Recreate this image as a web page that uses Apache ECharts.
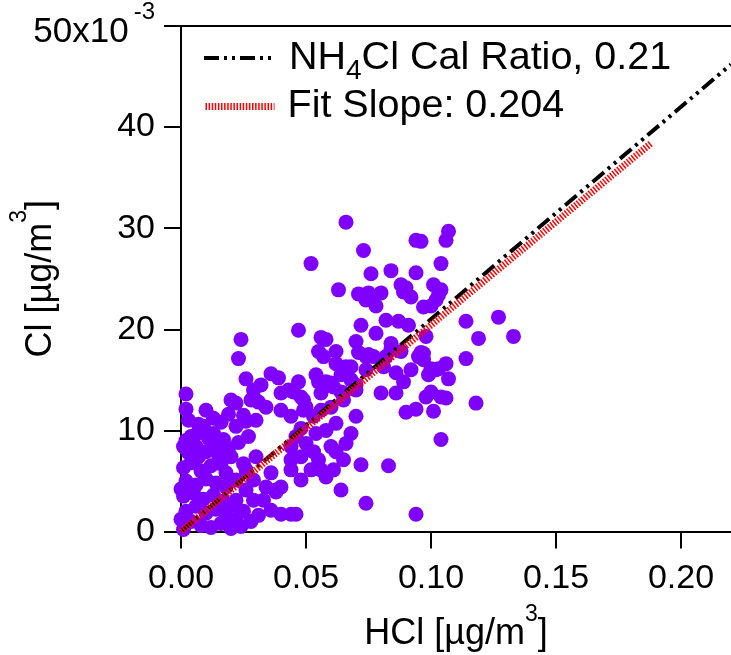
<!DOCTYPE html>
<html><head><meta charset="utf-8">
<script src="https://cdn.jsdelivr.net/npm/echarts@6/dist/echarts.min.js"></script>
<style>html,body{margin:0;padding:0;background:#fff}#c{width:731px;height:655px}</style>
</head><body><div id="c"></div>
<script>
// HCl [µg/m3]
const hcl = [0.066,0.073,0.052,0.094,0.096,0.107,0.106,0.104,0.076,0.084,0.094,0.063,0.071,0.075,0.080,0.074,0.078,0.076,0.088,0.089,0.092,0.090,0.101,0.104,0.103,0.102,0.100,0.097,
0.047,0.056,0.058,0.072,0.062,0.070,0.055,0.057,0.082,0.087,0.091,0.078,0.084,0.097,0.100,0.103,0.099,0.114,0.127,0.119,0.133,0.114,0.098,
0.024,0.023,0.026,0.036,0.039,0.054,0.058,0.032,0.029,0.040,0.045,0.048,0.062,0.066,0.064,0.068,
0.002,0.002,0.010,0.022,0.025,0.031,0.034,0.043,0.049,0.050,0.057,0.060,0.064,0.056,
0.070,0.072,0.074,0.064,0.040,0.044,0.046,0.038,0.044,0.024,0.094,0.083,0.118,0.107,0.106,0.101,0.104,0.094,0.090,0.086,
0.047,0.055,0.061,0.065,0.070,0.074,0.077,0.074,0.082,0.081,0.086,0.089,0.092,0.095,0.097,0.102,0.106,0.100,0.080,0.084,0.088,0.071,0.075,0.068,0.096,0.098,0.104,
0.048,0.046,0.050,0.044,0.053,0.048,0.044,0.055,0.060,0.062,0.065,0.058,0.061,0.056,0.052,0.048,0.036,0.040,0.034,0.029,0.026,0.030,0.025,0.020,0.016,0.018,0.022,0.026,0.022,0.029,0.033,0.036,0.038,
0.029,0.020,0.028,0.026,0.022,0.030,0.040,0.044,0.049,0.053,0.056,0.060,0.065,0.070,0.062,0.058,0.054,0.068,0.066,
0.004,0.009,0.013,0.017,0.006,0.012,
0.001,0.004,0.008,0.012,0.016,0.020,0.002,0.006,0.010,0.014,0.018,0.022,0.001,0.005,0.009,0.013,0.017,0.021,0.025,0.002,0.006,0.010,0.014,0.018,0.001,0.004,0.008,0.012,0.003,0.007,0.010,0.015,0.002,0.006,0.011,0.015,0.019,0.023,0.027,0.028,0.031,0.000,0.000,0.001,0.003,0.007,0.016,0.019,0.013];
// Cl [x10^-3 µg/m3]
const cl = [30.6,27.8,26.5,28.8,28.7,29.7,28.8,26.5,25.5,25.8,25.6,23.9,23.5,23.6,23.6,22.9,22.3,23.0,24.4,23.7,23.2,24.1,24.4,23.9,23.4,22.9,22.3,22.2,
19.9,19.2,19.0,20.4,17.8,18.8,17.8,17.3,20.9,20.8,20.4,19.6,18.6,17.6,16.1,16.1,15.5,20.8,21.2,19.1,19.3,17.1,19.3,
19.0,17.1,15.1,15.6,15.2,15.5,14.8,14.5,14.0,13.7,13.8,13.3,16.6,16.3,15.5,15.0,
13.6,12.1,12.0,12.7,11.5,12.8,12.3,14.0,13.0,12.3,14.3,14.7,13.8,13.7,
11.4,6.6,2.8,4.1,1.7,1.7,1.7,4.1,6.1,0.5,1.7,6.5,12.7,15.1,16.6,11.9,9.1,12.1,11.8,13.7,
14.8,14.8,14.3,13.7,14.5,16.0,17.3,17.3,17.3,16.3,15.7,14.8,16.0,17.3,17.0,16.0,13.2,13.8,13.7,18.0,17.8,17.7,17.5,16.3,17.7,13.3,13.3,
10.2,9.4,8.7,8.4,7.9,7.4,7.1,7.1,8.4,7.9,7.1,5.4,6.1,6.1,6.1,5.1,5.8,4.4,4.4,5.1,6.1,7.4,6.7,7.4,6.7,5.8,5.1,4.1,3.1,3.1,3.1,2.1,3.9,
13.3,13.0,13.0,10.9,10.4,11.0,12.0,11.4,12.0,11.4,12.0,12.3,13.0,14.0,10.7,10.0,9.7,9.7,8.7,
9.4,10.4,9.7,9.1,8.4,8.1,
0.2,1.0,0.6,0.4,0.8,0.3,2.0,2.5,1.8,2.2,1.6,1.2,3.5,3.8,3.2,3.6,3.0,2.6,2.0,5.0,4.6,5.2,4.8,4.4,6.3,6.8,6.0,6.5,7.8,7.4,7.9,7.6,9.0,9.6,9.2,8.6,8.2,8.8,9.4,1.0,1.6,1.2,4.2,8.4,11.0,10.6,10.8,11.6,11.2];
// reference lines (endpoints)
const calLineX = [0, 0.22];
const calLineY = [0, 46.2];
const fitLineX = [0, 0.188];
const fitLineY = [0, 38.4];
const xTicks = [0, 0.05, 0.10, 0.15, 0.20];
const yTicks = [0, 10, 20, 30, 40, 50];

const FONT = 'Arial, "Liberation Sans", sans-serif';
const chart = echarts.init(document.getElementById('c'), null, {renderer: 'canvas'});
const pts = hcl.map((x, i) => [x, cl[i]]);
const zip = (a, b) => a.map((v, i) => [v, b[i]]);
const calDash = [15, 5, 3, 5, 3, 5];
const fitDash = [1.5, 1.6];

chart.setOption({
  animation: false,
  backgroundColor: '#fff',
  textStyle: {fontFamily: FONT},
  grid: {left: 181, top: 26, right: 0, bottom: 123.5, containLabel: false, outerBoundsMode: 'none'},
  legend: [
    {
      data: ['NH4Cl Cal Ratio, 0.21'], orient: 'vertical', left: 202, top: 38, padding: 0,
      itemWidth: 69, itemHeight: 8,
      itemStyle: {color: 'rgba(0,0,0,0)', borderWidth: 0},
      lineStyle: {color: '#000', width: 4, type: calDash},
      formatter: () => '{g|}NH{sub|4}Cl Cal Ratio, 0.21',
      textStyle: {fontFamily: FONT, fontSize: 39.5, color: '#000',
        rich: {g: {width: 11}, sub: {fontSize: 28, padding: [26, 0, 0, 0], fontFamily: FONT}}}
    },
    {
      data: ['Fit Slope: 0.204'], orient: 'vertical', left: 202, top: 86.5, padding: 0,
      itemWidth: 69, itemHeight: 8,
      itemStyle: {color: 'rgba(0,0,0,0)', borderWidth: 0},
      lineStyle: {color: '#ff0000', width: 7, type: fitDash},
      formatter: () => '{g|}Fit Slope: 0.204',
      textStyle: {fontFamily: FONT, fontSize: 39.5, color: '#000', rich: {g: {width: 8}}}
    }
  ],
  xAxis: [
    {
      type: 'value', min: 0, max: 0.22, interval: 0.05, position: 'bottom',
      axisLine: {lineStyle: {color: '#000', width: 2}},
      axisTick: {inside: false, length: 17, lineStyle: {color: '#000', width: 2}},
      splitLine: {show: false},
      axisLabel: {fontSize: 34, color: '#000', margin: 30, fontFamily: FONT, showMaxLabel: false,
        formatter: v => xTicks.some(t => Math.abs(t - v) < 1e-9) ? v.toFixed(2) : ''},
      name: 'HCl [µg/m{sup|3}]', nameLocation: 'middle', nameGap: 72, nameMoveOverlap: false,
      nameTextStyle: {fontSize: 36, color: '#000', fontFamily: FONT,
        rich: {sup: {fontSize: 23, padding: [0, 0, 38, 0], fontFamily: FONT, color: '#000'}}}
    },
    {
      type: 'value', min: 0, max: 0.22, position: 'top',
      axisLine: {lineStyle: {color: '#000', width: 2}},
      axisTick: {show: false}, axisLabel: {show: false}, splitLine: {show: false}
    }
  ],
  yAxis: {
    type: 'value', min: 0, max: 50, interval: 10,
    axisLine: {show: true, lineStyle: {color: '#000', width: 2}},
    axisTick: {show: true, inside: false, length: 17, lineStyle: {color: '#000', width: 2}},
    splitLine: {show: false},
    axisLabel: {fontSize: 34, color: '#000', margin: 26, fontFamily: FONT,
      formatter: v => v === 50 ? '{b|50x10}{sup|-3}' : (yTicks.includes(v) ? String(v) : ''),
      rich: {b: {fontSize: 35, padding: [12, 0, 0, 0], fontFamily: FONT, color: '#000'},
             sup: {fontSize: 24, padding: [0, 0, 28, 5], fontFamily: FONT, color: '#000'}}},
    name: 'Cl [µg/m{sup|3}]', nameLocation: 'middle', nameGap: 107, nameRotate: 90, nameMoveOverlap: false,
    nameTextStyle: {fontSize: 36, color: '#000', fontFamily: FONT,
      rich: {sup: {fontSize: 23, padding: [0, 0, 43, 0], fontFamily: FONT, color: '#000'}}}
  },
  series: [
    {
      name: 'data', type: 'scatter', xAxisIndex: 0, data: pts, symbolSize: 15,
      itemStyle: {color: '#7f00ff', opacity: 1}, z: 2
    },
    {
      name: 'NH4Cl Cal Ratio, 0.21', type: 'line', xAxisIndex: 0, data: zip(calLineX, calLineY),
      symbol: 'none', showSymbol: false, z: 3, color: '#000',
      lineStyle: {color: '#000', width: 4, type: calDash}
    },
    {
      name: 'Fit Slope: 0.204', type: 'line', xAxisIndex: 0, data: zip(fitLineX, fitLineY),
      symbol: 'none', showSymbol: false, z: 4, color: '#ff0000',
      lineStyle: {color: '#ff0000', width: 7, type: fitDash}
    }
  ]
});
</script></body></html>
